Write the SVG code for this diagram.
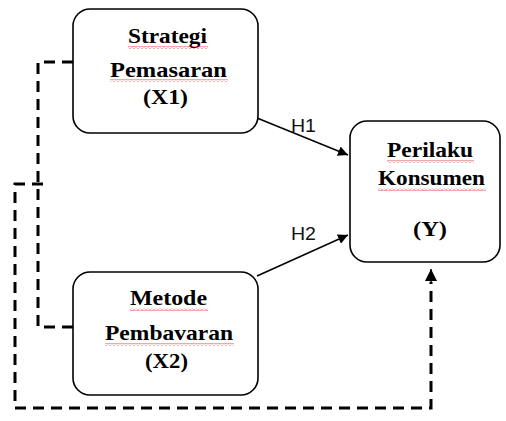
<svg xmlns="http://www.w3.org/2000/svg" width="506" height="421" viewBox="0 0 506 421">
<style>
.box{fill:#fff;stroke:#000;stroke-width:1.6}
.t{font-family:"Liberation Serif","Times New Roman",serif;font-weight:bold;font-size:21px;fill:#000;text-anchor:middle}
.h{font-family:"Liberation Sans",Arial,sans-serif;font-size:18px;fill:#111}
.solid{fill:none;stroke:#000;stroke-width:1.5}
.dash{fill:none;stroke:#000;stroke-width:3;stroke-dasharray:11 7}
.wave{fill:url(#wv)}
</style>
<defs>
<pattern id="wv" patternUnits="userSpaceOnUse" width="4" height="3">
<path d="M0,2.5 L2,0.5 L4,2.5" fill="none" stroke="#d22" stroke-width="0.8"/>
</pattern>
<marker id="ah" viewBox="0 0 10 10" refX="10" refY="5" markerWidth="10" markerHeight="10" markerUnits="userSpaceOnUse" orient="auto">
<path d="M0,0 L10,5 L0,10 z" fill="#000"/>
</marker>
<marker id="ah2" viewBox="0 0 10 10" refX="10" refY="5" markerWidth="14" markerHeight="12" markerUnits="userSpaceOnUse" orient="auto">
<path d="M0,0 L10,5 L0,10 z" fill="#000"/>
</marker>
</defs>
<rect width="506" height="421" fill="#fff"/>
<g id="connectors">
<path class="dash" d="M73,62 H38 V327 H73"/>
<path class="dash" d="M43,184 H15 V408 H431 V282"/>
<path class="solid" d="M431,283 V269" marker-end="url(#ah2)"/>
<path class="solid" d="M257,118 L348,155" marker-end="url(#ah)"/>
<path class="solid" d="M257,276 L348,235" marker-end="url(#ah)"/>
<text class="h" x="291" y="132" textLength="25" lengthAdjust="spacingAndGlyphs">H1</text>
<text class="h" x="291" y="240" textLength="25" lengthAdjust="spacingAndGlyphs">H2</text>
</g>
<g id="x1">
<rect class="box" x="73" y="9" width="185" height="124" rx="17"/>
<text class="t" x="167.5" y="43" textLength="79" lengthAdjust="spacingAndGlyphs">Strategi</text>
<rect class="wave" x="128" y="46" width="80" height="3"/>
<text class="t" x="168.5" y="77" textLength="117" lengthAdjust="spacingAndGlyphs">Pemasaran</text>
<rect class="wave" x="110" y="79" width="118" height="3"/>
<text class="t" x="165.5" y="104" textLength="45" lengthAdjust="spacingAndGlyphs">(X1)</text>
</g>
<g id="y">
<rect class="box" x="350" y="121" width="150" height="141" rx="17"/>
<text class="t" x="430" y="157" textLength="86" lengthAdjust="spacingAndGlyphs">Perilaku</text>
<rect class="wave" x="387" y="160" width="87" height="3"/>
<text class="t" x="431.5" y="185" textLength="107" lengthAdjust="spacingAndGlyphs">Konsumen</text>
<rect class="wave" x="378" y="188" width="108" height="3"/>
<text class="t" x="430" y="236" textLength="34" lengthAdjust="spacingAndGlyphs">(Y)</text>
</g>
<g id="x2">
<rect class="box" x="73" y="272" width="185" height="123" rx="17"/>
<text class="t" x="168.5" y="305" textLength="77" lengthAdjust="spacingAndGlyphs">Metode</text>
<rect class="wave" x="130" y="308" width="78" height="3"/>
<text class="t" x="169" y="340" textLength="128" lengthAdjust="spacingAndGlyphs">Pembavaran</text>
<rect class="wave" x="105" y="343" width="129" height="3"/>
<text class="t" x="166.5" y="368" textLength="43" lengthAdjust="spacingAndGlyphs">(X2)</text>
</g>
</svg>
